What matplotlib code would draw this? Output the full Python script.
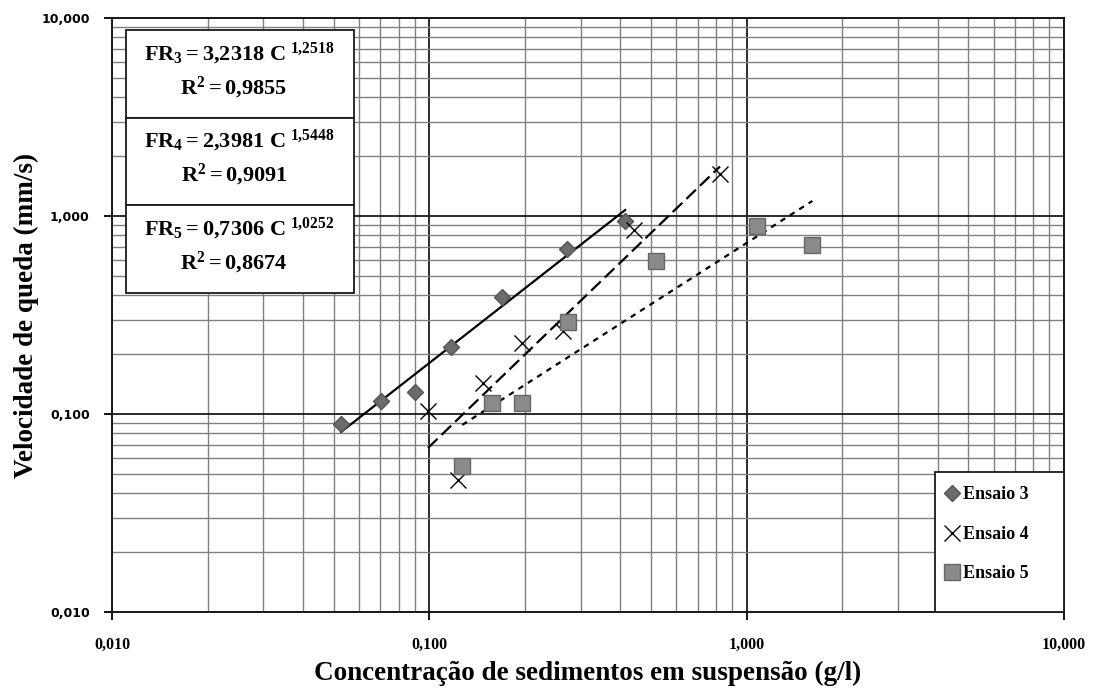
import matplotlib
matplotlib.use('Agg')
import matplotlib.pyplot as plt
from matplotlib.ticker import FixedLocator, FuncFormatter, LogLocator, NullFormatter
from matplotlib.patches import Rectangle
import numpy as np

# ensaio 3 (losangos)
c3 = [0.0527, 0.0705, 0.090, 0.117, 0.169, 0.272, 0.414]
v3 = [0.089, 0.116, 0.129, 0.218, 0.388, 0.678, 0.938]

# ensaio 4 (x)
c4 = [0.099, 0.123, 0.1475, 0.196, 0.264, 0.441, 0.824]
v4 = [0.1035, 0.0465, 0.143, 0.228, 0.262, 0.845, 1.62]

# ensaio 5 (quadrados)
c5 = [0.127, 0.158, 0.196, 0.274, 0.517, 1.08, 1.61]
v5 = [0.0547, 0.1135, 0.1135, 0.290, 0.590, 0.885, 0.71]

# ajustes potencia FR = a * C^b
coef_a = [3.2318, 2.3981, 0.7306]
coef_b = [1.2518, 1.5448, 1.0252]
r2 = ['0,9855', '0,9091', '0,8674']
nomes = ['Ensaio 3', 'Ensaio 4', 'Ensaio 5']

serif = 'Liberation Serif'
plt.rcParams['mathtext.fontset'] = 'custom'
plt.rcParams['mathtext.rm'] = 'Liberation Serif:bold'
plt.rcParams['mathtext.bf'] = 'Liberation Serif:bold'
plt.rcParams['mathtext.it'] = 'Liberation Serif:bold'

fig = plt.figure(figsize=(10.96, 6.91), dpi=100)
ax = fig.add_axes([0.1022, 0.1143, 0.8686, 0.8597])
ax.set_xscale('log')
ax.set_yscale('log')
ax.set_xlim(0.01, 10)
ax.set_ylim(0.01, 10)

# grade
ax.grid(which='minor', color='#808080', linewidth=1.0)
ax.grid(which='major', color='#1a1a1a', linewidth=1.3)
ax.set_axisbelow(True)
for s in ax.spines.values():
    s.set_linewidth(1.4)
    s.set_color('#1a1a1a')

fmt = FuncFormatter(lambda v, p: f'{v:.3f}'.replace('.', ','))
ax.xaxis.set_major_locator(FixedLocator([0.01, 0.1, 1, 10]))
ax.yaxis.set_major_locator(FixedLocator([0.01, 0.1, 1, 10]))
ax.xaxis.set_major_formatter(fmt)
ax.yaxis.set_major_formatter(fmt)
ax.xaxis.set_minor_locator(LogLocator(base=10, subs=np.arange(2, 10)))
ax.yaxis.set_minor_locator(LogLocator(base=10, subs=np.arange(2, 10)))
ax.xaxis.set_minor_formatter(NullFormatter())
ax.yaxis.set_minor_formatter(NullFormatter())
ax.tick_params(which='major', length=6, width=1.3, direction='out')
ax.tick_params(axis='x', which='major', pad=12)
ax.tick_params(axis='y', which='major', pad=10)
ax.tick_params(which='minor', length=0)
for lb in ax.get_xticklabels():
    lb.set_fontfamily(serif)
    lb.set_fontweight('bold')
    lb.set_fontsize(11.5)
for lb in ax.get_yticklabels():
    lb.set_fontfamily('DejaVu Sans')
    lb.set_fontweight('bold')
    lb.set_fontsize(9)

ax.set_xlabel('Concentração de sedimentos em suspensão (g/l)', fontfamily=serif,
              fontweight='bold', fontsize=19.5, labelpad=6)
ax.set_ylabel('Velocidade de queda (mm/s)', fontfamily=serif,
              fontweight='bold', fontsize=19.5)
ax.yaxis.set_label_coords(-0.077, 0.5)

# linhas de tendencia
estilos = ['-', (0, (6, 2.5)), (0, (2.5, 2.5))]
dados = [(c3, v3), (c4, v4), (c5, v5)]
for (c, v), a, b, ls in zip(dados, coef_a, coef_b, estilos):
    xs = np.logspace(np.log10(min(c)), np.log10(max(c)), 50)
    ax.plot(xs, a * xs ** b, color='black', linestyle=ls, linewidth=1.6, zorder=3)

ax.plot(c3, v3, linestyle='none', marker='D', markersize=8, markerfacecolor='#6b6b6b',
        markeredgecolor='#555555', markeredgewidth=1, label=nomes[0], zorder=4)
ax.plot(c4, v4, linestyle='none', marker='x', markersize=11, color='black',
        markeredgewidth=1.0, label=nomes[1], zorder=4)
ax.plot(c5, v5, linestyle='none', marker='s', markersize=11, markerfacecolor='#8a8a8a',
        markeredgecolor='#666666', markeredgewidth=1, label=nomes[2], zorder=4)

# legenda: moldura desenhada a parte, maior que o texto
leg_x0, leg_y1 = 0.8645, 0.2357
ax.add_patch(Rectangle((leg_x0, 0), 1 - leg_x0, leg_y1, transform=ax.transAxes,
                       facecolor='white', edgecolor='#1a1a1a', linewidth=1.3, zorder=5))
leg = ax.legend(loc='upper left', bbox_to_anchor=(leg_x0 + 0.002, leg_y1 - 0.012),
                borderaxespad=0, frameon=False,
                prop={'family': serif, 'weight': 'bold', 'size': 13},
                labelspacing=1.25, handlelength=0.9, handletextpad=0.15, borderpad=0.4)
leg.set_zorder(6)

# caixas com as equacoes
topos = [0.980, 0.832, 0.685, 0.537]
for i in range(3):
    y_top, y_bot = topos[i], topos[i + 1]
    ax.add_patch(Rectangle((0.0147, y_bot), 0.239, y_top - y_bot, transform=ax.transAxes,
                           facecolor='white', edgecolor='#1a1a1a', linewidth=1.3, zorder=5))
    a_txt = f'{coef_a[i]:.4f}'.replace('.', '{,}')
    b_txt = f'{coef_b[i]:.4f}'.replace('.', '{,}')
    eq = r'$\mathrm{FR_{%d} = %s\ C^{\ %s}}$' % (i + 3, a_txt, b_txt)
    rr = r'$\mathrm{R^{2} = %s}$' % r2[i].replace(',', '{,}')
    h = y_top - y_bot
    ax.text(0.134, y_top - 0.27 * h, eq, transform=ax.transAxes, ha='center', va='center',
            fontsize=16, zorder=6)
    ax.text(0.128, y_top - 0.66 * h, rr, transform=ax.transAxes, ha='center', va='center',
            fontsize=16, zorder=6)

fig.savefig('out.png', dpi=100)
